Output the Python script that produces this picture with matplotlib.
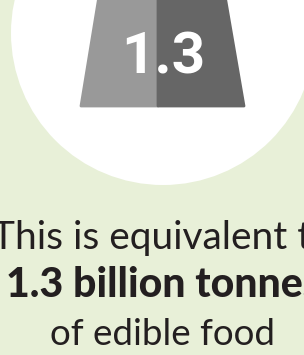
import matplotlib.pyplot as plt
from matplotlib.patches import Circle, Polygon

value_label = "1.3"
text_lines = ["This is equivalent to", "1.3 billion tonnes", "of edible food"]
line_weights = ["normal", "black", "normal"]
line_sizes = [28, 29.5, 26.5]
half_colors = ["#999999", "#666666"]

bg = "#e8f0d8"
W, H = 304, 355

fig = plt.figure(figsize=(W / 100, H / 100), dpi=100, facecolor=bg)
ax = fig.add_axes([0, 0, 1, 1])
ax.set_xlim(0, W)
ax.set_ylim(H, 0)
ax.axis("off")
ax.set_facecolor(bg)

cx, cy, r = 163, 33, 152
ax.add_patch(Circle((cx, cy), r, color="white", lw=0))

# weight shape split in two tones
top_y, bot_y = -10, 106
lt, rt = 100, 224
lb, rb = 81, 244
split = 158
left = [(lt, top_y), (lb, bot_y), (split, bot_y), (split, top_y)]
right = [(split, top_y), (split, bot_y), (rb, bot_y), (rt, top_y)]
for pts, c in zip([left, right], half_colors):
    ax.add_patch(Polygon(pts, closed=True, facecolor=c, edgecolor=c,
                         lw=2, joinstyle="round"))

ax.text(163, 74, value_label, color="white", fontsize=42, fontweight="bold",
        family="Roboto", ha="center", va="baseline")

ys = [249, 297, 345]
for t, y, w, s in zip(text_lines, ys, line_weights, line_sizes):
    ax.text(163, y, t, color="#231f20", fontsize=s, fontweight=w,
            family="Lato", ha="center", va="baseline")

fig.savefig("out.png", dpi=100, facecolor=bg)
